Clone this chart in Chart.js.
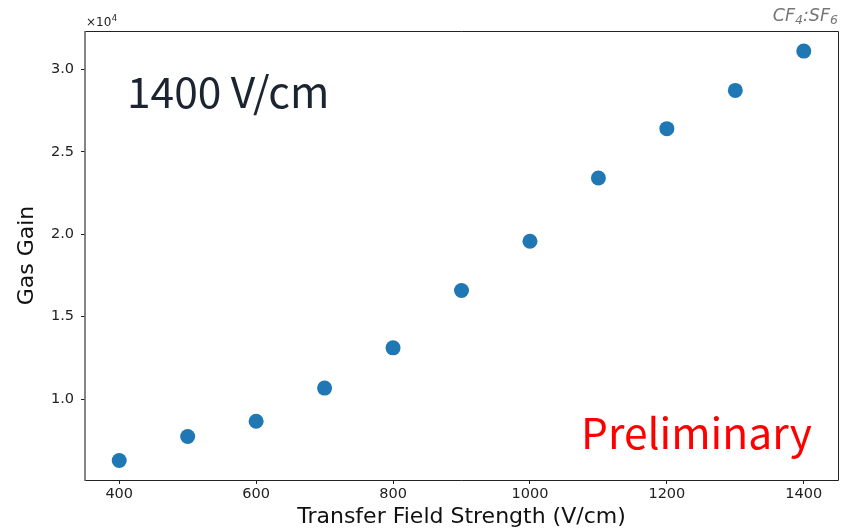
<!DOCTYPE html>
<html>
<head>
<meta charset="utf-8">
<script src="https://cdn.jsdelivr.net/npm/chart.js@4.4.0/dist/chart.umd.min.js"></script>
<style>
html,body{margin:0;padding:0;background:#fff;}
#wrap{width:848px;height:530px;position:relative;}
</style>
</head>
<body>
<div id="wrap"><canvas id="c" width="848" height="530"></canvas></div>
<script>
// Data
const fieldStrength = [400, 500, 600, 700, 800, 900, 1000, 1100, 1200, 1300, 1400];
const gasGain = [6280, 7740, 8660, 10670, 13110, 16590, 19570, 23410, 26400, 28720, 31100];
const xTicks = [400, 600, 800, 1000, 1200, 1400];
const yTicks = [10000, 15000, 20000, 25000, 30000];
const xTitle = 'Transfer Field Strength (V/cm)';
const yTitle = 'Gas Gain';
const fieldLabel = '1400 V/cm';
const stampLabel = 'Preliminary';

const points = fieldStrength.map((x, i) => ({x: x, y: gasGain[i]}));

const framePlugin = {
  id: 'frame',
  afterDraw(chart) {
    const {ctx, chartArea: a} = chart;
    ctx.save();
    // spines
    ctx.strokeStyle = '#222';
    ctx.lineWidth = 1;
    ctx.beginPath();
    ctx.moveTo(a.left, a.top + 0.5); ctx.lineTo(a.right + 0.5, a.top + 0.5);
    ctx.lineTo(a.right + 0.5, a.bottom + 0.5); ctx.lineTo(a.left, a.bottom + 0.5);
    ctx.stroke();
    ctx.strokeStyle = '#666';
    ctx.lineWidth = 1.6;
    ctx.beginPath();
    ctx.moveTo(a.left, a.top); ctx.lineTo(a.left, a.bottom + 1);
    ctx.stroke();

    // multiplier label
    ctx.fillStyle = '#222';
    ctx.textBaseline = 'alphabetic';
    ctx.textAlign = 'left';
    ctx.font = '12px "DejaVu Sans"';
    ctx.fillText('\u00d710', a.left + 1, a.top - 5);
    const w = ctx.measureText('\u00d710').width;
    ctx.font = '8.5px "DejaVu Sans"';
    ctx.fillText('4', a.left + 1 + w + 0.5, a.top - 10);

    // CF4:SF6 label (right aligned)
    const parts = [['CF', false], ['4', true], [':SF', false], ['6', true]];
    const bigF = 'italic 17.5px "DejaVu Sans"';
    const smallF = 'italic 12.5px "DejaVu Sans"';
    let total = 0;
    parts.forEach(p => { ctx.font = p[1] ? smallF : bigF; total += ctx.measureText(p[0]).width; });
    let x = a.right - total;
    ctx.fillStyle = '#777';
    parts.forEach(p => {
      ctx.font = p[1] ? smallF : bigF;
      ctx.fillText(p[0], x, p[1] ? 24 : 21);
      x += ctx.measureText(p[0]).width;
    });

    // annotations
    ctx.fillStyle = '#1b2430';
    ctx.font = '42.5px "Noto Sans CJK SC"';
    ctx.fillText(fieldLabel, a.left + 42, a.top + 77);
    ctx.fillStyle = '#ff0000';
    ctx.font = '42.5px "Noto Sans CJK SC"';
    ctx.textAlign = 'right';
    ctx.fillText(stampLabel, a.right - 26, a.bottom - 31);
    ctx.restore();
  }
};

new Chart(document.getElementById('c'), {
  type: 'scatter',
  data: {
    datasets: [{
      data: points,
      backgroundColor: '#1f77b4',
      borderColor: '#1f77b4',
      borderWidth: 0,
      pointRadius: 7.5,
      pointHoverRadius: 7.5
    }]
  },
  options: {
    responsive: false,
    animation: false,
    events: [],
    layout: {padding: {left: 0, right: 10, top: 31, bottom: 0}},
    plugins: {legend: {display: false}, tooltip: {enabled: false}},
    scales: {
      x: {
        type: 'linear',
        min: 350, max: 1450,
        afterBuildTicks: s => { s.ticks = xTicks.map(v => ({value: v})); },
        afterFit: s => { s.height = 50; },
        border: {display: false},
        grid: {drawOnChartArea: false, drawTicks: true, tickLength: 4, color: '#222', tickWidth: 1},
        ticks: {color: '#222', font: {family: 'DejaVu Sans', size: 14.5}, padding: 2, maxRotation: 0,
          callback: v => String(v)},
        title: {display: true, text: xTitle, color: '#111', font: {family: 'DejaVu Sans', size: 22, lineHeight: 1.2}, padding: {top: 0, bottom: 0}}
      },
      y: {
        type: 'linear',
        min: 5100, max: 32320,
        afterBuildTicks: s => { s.ticks = yTicks.map(v => ({value: v})); },
        afterFit: s => { s.width = 85; },
        border: {display: false},
        grid: {drawOnChartArea: false, drawTicks: true, tickLength: 4, color: '#222', tickWidth: 1},
        ticks: {color: '#222', font: {family: 'DejaVu Sans', size: 14.5}, padding: 7,
          callback: v => (v / 10000).toFixed(1)},
        title: {display: true, text: yTitle, color: '#111', font: {family: 'DejaVu Sans', size: 22, lineHeight: 1.2}, padding: {top: 14, bottom: 0}}
      }
    }
  },
  plugins: [framePlugin]
});
</script>
</body>
</html>
